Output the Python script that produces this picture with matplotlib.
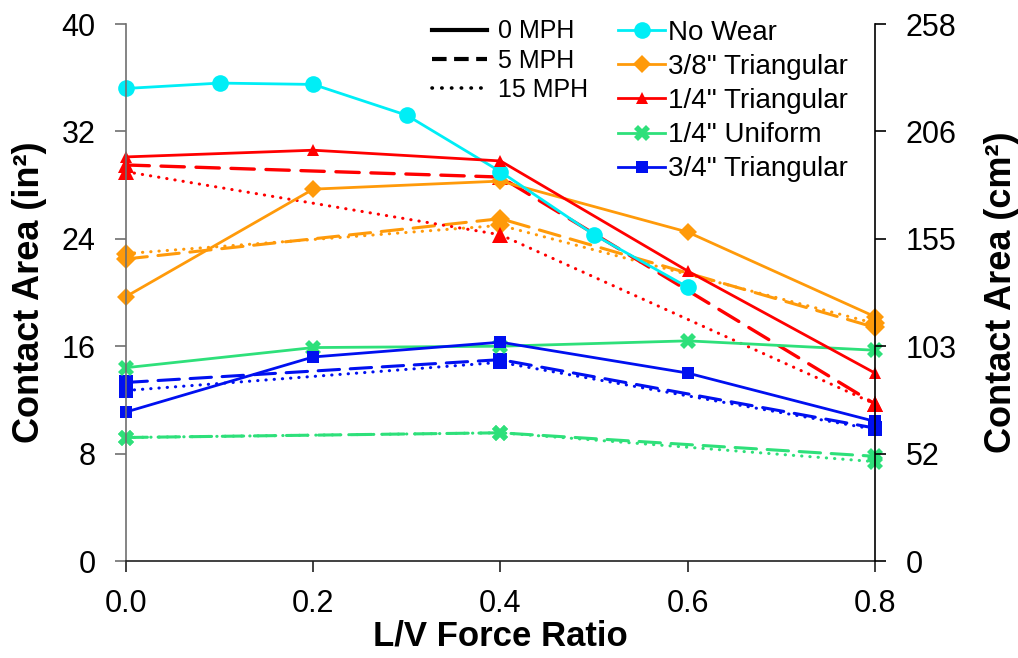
import matplotlib

matplotlib.use("Agg")
import matplotlib.pyplot as plt
from matplotlib.lines import Line2D

plt.rcParams["font.family"] = ["Liberation Sans", "DejaVu Sans"]

IN2_TO_CM2 = 6.4516

# L/V force ratios
x_full = [0.0, 0.2, 0.4, 0.6, 0.8]
x_fine = [0.0, 0.1, 0.2, 0.3, 0.4, 0.5, 0.6]
x_sparse = [0.0, 0.4, 0.8]

# contact area, in^2
no_wear_0 = [35.2, 35.6, 35.5, 33.2, 29.0, 24.3, 20.4]

tri38_0 = [19.7, 27.7, 28.3, 24.5, 18.2]
tri38_5 = [22.5, 25.5, 17.4]
tri38_15 = [22.9, 25.0, 17.7]

tri14_0 = [30.1, 30.6, 29.8, 21.6, 14.0]
tri14_5 = [29.5, 28.6, 11.7]
tri14_15 = [29.0, 24.3, 11.7]

uni14_0 = [14.4, 15.9, 16.0, 16.4, 15.7]
uni14_5 = [9.2, 9.55, 7.8]
uni14_15 = [9.2, 9.55, 7.4]

tri34_0 = [11.1, 15.2, 16.3, 14.0, 10.4]
tri34_5 = [13.3, 15.0, 9.9]
tri34_15 = [12.7, 14.8, 9.8]

series_names = ["No Wear", '3/8" Triangular', '1/4" Triangular',
                '1/4" Uniform', '3/4" Triangular']
speed_names = ["0 MPH", "5 MPH", "15 MPH"]
yticks = [0, 8, 16, 24, 32, 40]
xticks = [0.0, 0.2, 0.4, 0.6, 0.8]

CYAN = "#00EEF6"
ORANGE = "#FF9A0A"
RED = "#FF0000"
GREEN = "#2EE07A"
BLUE = "#0010F0"

DASH = (0, (7, 3.5))
DOT = (0, (0.1, 2.6))

fig = plt.figure(figsize=(10.18, 6.58), dpi=100)
fig.subplots_adjust(left=0.1238, right=0.8595, top=0.9635, bottom=0.1474)
ax = fig.add_subplot(111)


def draw(x, y, color, marker, ms, ls, lw):
    (ln,) = ax.plot(x, y, color=color, marker=marker, markersize=ms,
                    linestyle=ls, linewidth=lw, dash_capstyle="round",
                    markeredgewidth=0, clip_on=False)
    return ln


# slower tests first so the 0 MPH curves sit on top
draw(x_sparse, uni14_15, GREEN, "X", 12, DOT, 2.2)
draw(x_sparse, uni14_5, GREEN, "X", 12, DASH, 2.2)
draw(x_sparse, tri34_15, BLUE, "s", 10.5, DOT, 2.2)
draw(x_sparse, tri34_5, BLUE, "s", 10.5, DASH, 2.2)
draw(x_sparse, tri38_15, ORANGE, "D", 10, DOT, 2.2)
draw(x_sparse, tri38_5, ORANGE, "D", 10, DASH, 2.2)
draw(x_sparse, tri14_15, RED, "^", 12, DOT, 2.2)
draw(x_sparse, tri14_5, RED, "^", 12, DASH, 2.4)

h_uni = draw(x_full, uni14_0, GREEN, "X", 12, "-", 2.0)
h_34 = draw(x_full, tri34_0, BLUE, "s", 9, "-", 2.0)
h_38 = draw(x_full, tri38_0, ORANGE, "D", 9, "-", 2.0)
h_nw = draw(x_fine, no_wear_0, CYAN, "o", 12, "-", 2.0)
h_14 = draw(x_full, tri14_0, RED, "^", 9, "-", 2.0)

ax.set_xlim(0, 0.8)
ax.set_ylim(0, 40)
ax.set_xticks(xticks)
ax.set_xticklabels([f"{v:.1f}" for v in xticks])
ax.set_yticks(yticks)

for side in ("top", "right"):
    ax.spines[side].set_visible(False)
ax.spines["left"].set_color("#707070")
ax.spines["left"].set_linewidth(1.2)
ax.spines["bottom"].set_color("#202020")
ax.spines["bottom"].set_linewidth(1.2)
ax.tick_params(axis="y", direction="out", length=8, width=1.2,
               color="#707070", labelsize=22, pad=14)
ax.tick_params(axis="x", direction="out", length=8, width=1.2,
               color="#202020", labelsize=22, pad=12)

ax.set_xlabel("L/V Force Ratio", fontsize=25, fontweight="bold")
ax.xaxis.set_label_coords(0.5, -0.108)
ax.set_ylabel("Contact Area (in²)", fontsize=26, fontweight="bold")
ax.yaxis.set_label_coords(-0.106, 0.5)

# metric axis on the right
ax2 = ax.twinx()
ax2.set_ylim(ax.get_ylim())
ax2.set_yticks(yticks)
ax2.set_yticklabels([f"{t * IN2_TO_CM2:.0f}" for t in yticks])
for side in ("top", "left", "bottom"):
    ax2.spines[side].set_visible(False)
ax2.spines["right"].set_color("black")
ax2.spines["right"].set_linewidth(1.2)
ax2.tick_params(axis="y", direction="out", length=8, width=1.2,
                color="black", labelsize=22, pad=14)
ax2.set_ylabel("Contact Area (cm²)", fontsize=26, fontweight="bold")
ax2.yaxis.set_label_coords(1.146, 0.5)

# line-style key
style_handles = [
    Line2D([], [], color="black", linestyle="-", linewidth=3),
    Line2D([], [], color="black", linestyle=(0, (3.5, 1.8)), linewidth=3),
    Line2D([], [], color="black", linestyle=(0, (0.1, 2.6)), linewidth=2.6,
           dash_capstyle="round"),
]
leg1 = ax2.legend(style_handles, speed_names, loc="upper left",
                  bbox_to_anchor=(0.4244, 0.9705),
                  bbox_transform=fig.transFigure, frameon=False,
                  fontsize=18, handlelength=2.2, handletextpad=0.45,
                  labelspacing=0.21, borderpad=0, borderaxespad=0)
ax2.add_artist(leg1)

# wear-pattern key
ax2.legend([h_nw, h_38, h_14, h_uni, h_34], series_names, loc="upper left",
           bbox_to_anchor=(0.607, 0.9695), bbox_transform=fig.transFigure,
           frameon=False, fontsize=20, handlelength=1.7, handletextpad=0.12,
           labelspacing=0.29, borderpad=0, borderaxespad=0, numpoints=1)

fig.savefig("out.png", dpi=100)
